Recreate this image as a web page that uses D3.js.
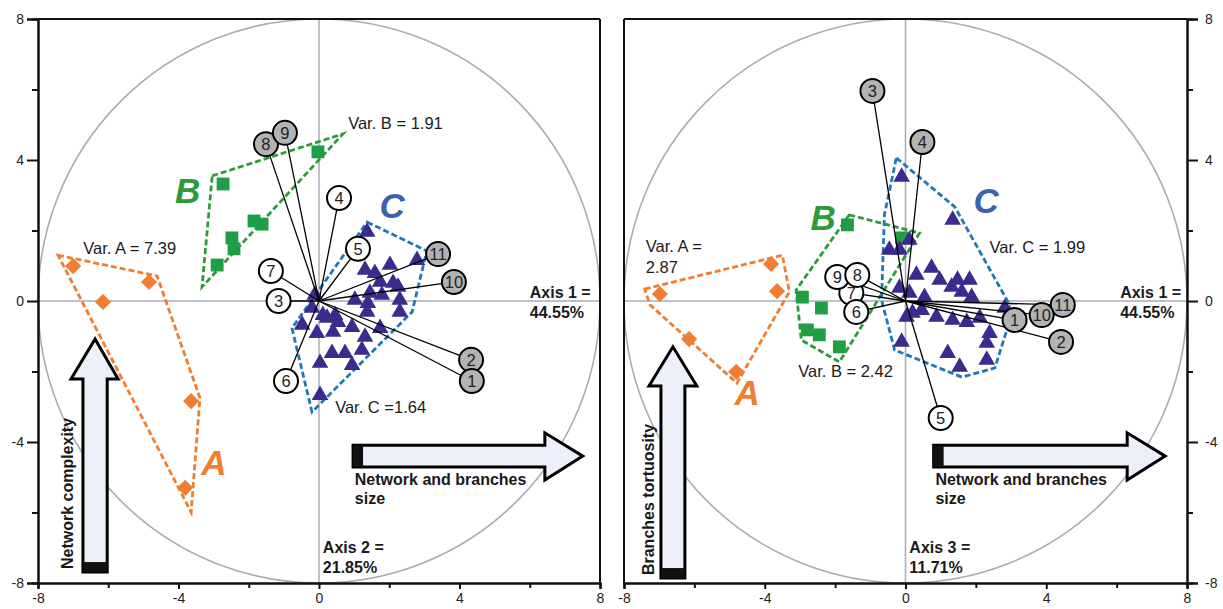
<!DOCTYPE html>
<html>
<head>
<meta charset="utf-8">
<script src="https://cdn.jsdelivr.net/npm/d3@7"></script>
<style>
  body { margin: 0; background: #fff; }
  svg { display: block; font-family: "Liberation Sans", Arial, sans-serif; }
</style>
</head>
<body>
<svg id="chart" width="1223" height="609"></svg>
<script>
// ---- shared labels ----
const varNames = ["1", "2", "3", "4", "5", "6", "7", "8", "9", "10", "11"];
const majorTicks = [-8, -4, 0, 4, 8];
const minorTicks = [-6, -2, 2, 6];

// ---- Axis 1 x Axis 2 (left plot) ----
const l_groupA_x = [-7.0, -6.15, -4.84, -3.64, -3.81];
const l_groupA_y = [0.99, -0.03, 0.54, -2.84, -5.3];
const l_groupB_x = [-2.73, -1.85, -1.62, -2.48, -2.42, -2.9, -0.03];
const l_groupB_y = [3.32, 2.27, 2.18, 1.79, 1.48, 1.02, 4.23];
const l_groupC_x = [1.37, 1.31, 1.59, 2.02, 2.79, 1.74, 2.11, 2.25, 1.45, 1.02, 1.39, 1.79, 2.30, 2.30, -0.12,
                    -0.2, 1.37, 0.46, 0.11, -0.48, 0.23, 0.54, 0.94, -0.06, 0.40, 1.31, 1.74, 1.22, 0.37, 0.74, 0.03, 0.94, 0.03];
const l_groupC_y = [1.96, 0.88, 0.79, 1.02, 1.16, 0.54, 0.51, 0.40, 0.23, 0.03, -0.06, 0.17, 0.03, -0.31, 0.17,
                    -0.2, -0.31, -0.40, -0.40, -0.68, -0.48, -0.60, -0.74, -0.91, -0.88, -1.02, -0.77, -1.39, -1.48, -1.48, -1.76, -1.82, -2.67];
const l_hullA = [[-7.43, 1.3], [-4.61, 0.71], [-3.39, -2.75], [-3.64, -5.99]];
const l_hullB = [[-3.04, 3.55], [0.68, 4.74], [-3.33, 0.4]];
const l_hullC = [[1.37, 2.24], [3.07, 1.42], [2.65, -0.31], [-0.2, -3.15], [-0.77, -0.77]];
const l_loadX = [4.35, 4.33, -1.15, 0.57, 1.11, -0.94, -1.37, -1.51, -0.97, 3.84, 3.39];
const l_loadY = [-2.27, -1.67, 0, 2.92, 1.48, -2.27, 0.85, 4.45, 4.77, 0.54, 1.33];
const l_loadGray = [true, true, false, false, false, false, false, true, true, true, true];

// ---- Axis 1 x Axis 3 (right plot) ----
const r_groupA_x = [-6.98, -6.15, -4.81, -3.82, -3.65];
const r_groupA_y = [0.2, -1.08, -2.01, 1.05, 0.28];
const r_groupB_x = [-1.65, -0.11, -2.93, -2.39, -2.79, -2.45, -1.88];
const r_groupB_y = [2.16, 1.79, 0.11, -0.2, -0.82, -0.96, -1.30];
const r_groupC_x = [-0.11, -0.46, -0.17, 0.11, 1.34, 0.74, 0.31, 0.97, 1.48, 1.82, 1.31, 0.54, 1.88, -0.17, 1.60,
                    0.11, 0.03, 0.46, 0.88, 1.34, 1.74, 2.11, 2.39, 2.31, -0.11, 1.20, 2.31, 1.54, 2.82, 0.2];
const r_groupC_y = [3.52, 1.45, 1.45, 1.73, 2.30, 0.94, 0.74, 0.60, 0.60, 0.60, 0.40, 0.11, 0.11, 0.37, 0.26,
                    0.23, -0.45, -0.26, -0.45, -0.54, -0.60, -0.48, -0.91, -1.19, -1.16, -1.48, -1.67, -1.87, -0.2, -0.34];
const r_hullA = [[-7.41, 0.34], [-3.5, 1.30], [-3.3, 0.26], [-4.79, -2.33], [-7.26, -0.11]];
const r_hullB = [[-1.6, 2.44], [0.4, 1.93], [-1.88, -1.73], [-2.96, -1.11], [-3.11, 0.31]];
const r_hullC = [[-0.26, 4.06], [1.40, 2.67], [2.96, -0.11], [2.88, -0.82], [2.54, -1.90], [1.60, -2.16],
                 [-0.31, -1.39], [-0.68, 0.03], [-0.6, 2.44]];
const r_loadX = [3.1, 4.42, -0.94, 0.48, 1.0, -1.40, -1.54, -1.37, -1.94, 3.87, 4.47];
const r_loadY = [-0.54, -1.16, 5.96, 4.51, -3.32, -0.31, 0.23, 0.74, 0.68, -0.40, -0.11];
const r_loadGray = [true, true, true, true, false, false, false, false, false, true, true];

const colA = "#ef7d32", colB = "#1f9e45", colBline = "#2d9b3c", colC = "#3b2b8d", colCline = "#1f77b6";
const colCtext = "#3b63ad", gridCol = "#a9acb6", arrowFill = "#eef0f9";

const svg = d3.select("#chart");
const toPts = (xs, ys) => xs.map((v, i) => [v, ys[i]]);

function drawPanel(p) {
    const x = d3.scaleLinear().domain([-8, 8]).range([p.left, p.right]);
    const y = d3.scaleLinear().domain([-8, 8]).range([583, 19]);
    const g = svg.append("g");

    // cross hair and the radius-8 circle
    g.append("line").attr("x1", x(0)).attr("x2", x(0)).attr("y1", y(8)).attr("y2", y(-8))
        .attr("stroke", gridCol).attr("stroke-width", 1.5);
    g.append("line").attr("x1", x(-8)).attr("x2", x(8)).attr("y1", y(0)).attr("y2", y(0))
        .attr("stroke", gridCol).attr("stroke-width", 1.5);
    g.append("ellipse").attr("cx", x(0)).attr("cy", y(0))
        .attr("rx", x(8) - x(0)).attr("ry", y(0) - y(8))
        .attr("fill", "none").attr("stroke", gridCol).attr("stroke-width", 1.6);

    // dashed group outlines
    const hull = d3.line().x(d => x(d[0])).y(d => y(d[1])).curve(d3.curveLinearClosed);
    [[p.hullA, colA], [p.hullB, colBline], [p.hullC, colCline]].forEach(([h, c]) => {
        g.append("path").attr("d", hull(h)).attr("fill", "none")
            .attr("stroke", c).attr("stroke-width", 2.8).attr("stroke-dasharray", "6 3");
    });

    // group markers
    g.selectAll(".ga").data(p.A).enter().append("path")
        .attr("d", d3.symbol().type(d3.symbolSquare).size(130)())
        .attr("transform", d => `translate(${x(d[0])},${y(d[1])}) rotate(45)`)
        .attr("fill", colA);
    g.selectAll(".gb").data(p.B).enter().append("path")
        .attr("d", d3.symbol().type(d3.symbolSquare).size(165)())
        .attr("transform", d => `translate(${x(d[0])},${y(d[1])})`)
        .attr("fill", colB);
    g.selectAll(".gc").data(p.C).enter().append("path")
        .attr("d", d3.symbol().type(d3.symbolTriangle).size(120)())
        .attr("transform", d => `translate(${x(d[0])},${y(d[1])})`)
        .attr("fill", colC);

    // loading vectors
    const loads = varNames.map((n, i) => ({ name: n, x: p.loadX[i], y: p.loadY[i], gray: p.loadGray[i] }));
    g.selectAll(".vec").data(loads).enter().append("line")
        .attr("x1", x(0)).attr("y1", y(0))
        .attr("x2", d => x(d.x)).attr("y2", d => y(d.y))
        .attr("stroke", "#000").attr("stroke-width", 1.3);
    const ordered = p.order.map(n => loads[varNames.indexOf(n)]);
    const node = g.selectAll(".node").data(ordered).enter().append("g")
        .attr("transform", d => `translate(${x(d.x)},${y(d.y)})`);
    node.append("circle").attr("r", 12)
        .attr("fill", d => d.gray ? "#b3b3b3" : "#fff")
        .attr("stroke", "#000").attr("stroke-width", 2);
    node.append("text").text(d => d.name)
        .attr("text-anchor", "middle").attr("dy", "0.36em")
        .attr("font-size", 16.5).attr("fill", "#222");

    // big group letters and variance notes
    p.texts.forEach(t => {
        const tx = g.append("text").attr("x", x(t.x)).attr("y", y(t.y))
            .attr("font-size", 16.5).attr("fill", t.color || "#1a1a1a");
        if (t.big) tx.attr("font-weight", "bold").attr("font-style", "italic").attr("font-size", 35);
        if (t.bold) tx.attr("font-weight", "bold").attr("font-size", 16);
        tx.text(t.text);
    });

    // vertical arrow
    const va = p.vArrow;
    const vpts = [[va.sl, va.bottom], [va.sl, va.base], [va.hl, va.base], [(va.sl + va.sr) / 2, va.tip],
                  [va.hr, va.base], [va.sr, va.base], [va.sr, va.bottom]];
    g.append("polygon").attr("points", vpts.map(d => [x(d[0]), y(d[1])].join(",")).join(" "))
        .attr("fill", arrowFill).attr("stroke", "#000").attr("stroke-width", 3);
    g.append("rect").attr("x", x(va.sl)).attr("y", y(va.bottom) - 10)
        .attr("width", x(va.sr) - x(va.sl)).attr("height", 10).attr("fill", "#111");
    g.append("text").attr("transform", `translate(${x(va.textX)},${y(va.bottom) - 3}) rotate(-90)`)
        .attr("font-weight", "bold").attr("font-size", 16).attr("fill", "#1a1a1a").text(va.label);

    // horizontal arrow
    const ha = p.hArrow;
    const hpts = [[ha.start, ha.top], [ha.base, ha.top], [ha.base, ha.htop], [ha.tip, (ha.top + ha.bot) / 2],
                  [ha.base, ha.hbot], [ha.base, ha.bot], [ha.start, ha.bot]];
    g.append("polygon").attr("points", hpts.map(d => [x(d[0]), y(d[1])].join(",")).join(" "))
        .attr("fill", arrowFill).attr("stroke", "#000").attr("stroke-width", 3);
    g.append("rect").attr("x", x(ha.start)).attr("y", y(ha.top))
        .attr("width", 10).attr("height", y(ha.bot) - y(ha.top)).attr("fill", "#111");

    // frame
    g.append("line").attr("x1", x(-8)).attr("x2", x(8)).attr("y1", y(8)).attr("y2", y(8))
        .attr("stroke", "#111").attr("stroke-width", 2);
    const sideX = p.axisSide === "left" ? x(8) : x(-8);
    g.append("line").attr("x1", sideX).attr("x2", sideX).attr("y1", y(8)).attr("y2", y(-8))
        .attr("stroke", "#111").attr("stroke-width", 2);

    // axes (plain hyphen minus like the original)
    const fmt = d => String(d);
    const styleAxis = sel => {
        sel.selectAll("path,line").attr("stroke", "#111").attr("stroke-width", 2);
        sel.selectAll("text").attr("font-size", 14).attr("fill", "#222")
            .attr("font-family", "'Liberation Sans', Arial, sans-serif");
    };
    const yMaj = p.axisSide === "left" ? d3.axisLeft(y) : d3.axisRight(y);
    const yMin = p.axisSide === "left" ? d3.axisLeft(y) : d3.axisRight(y);
    const yX = p.axisSide === "left" ? x(-8) : x(8);
    g.append("g").attr("transform", `translate(${yX},0)`)
        .call(yMaj.tickValues(majorTicks).tickFormat(fmt).tickSize(11).tickPadding(p.axisSide === "left" ? 3 : 7))
        .call(styleAxis);
    g.append("g").attr("transform", `translate(${yX},0)`)
        .call(yMin.tickValues(minorTicks).tickFormat("").tickSize(6)).call(styleAxis);
    g.append("g").attr("transform", `translate(0,${y(-8)})`)
        .call(d3.axisBottom(x).tickValues(majorTicks).tickFormat(fmt).tickSize(6).tickPadding(4))
        .call(styleAxis);
    g.append("g").attr("transform", `translate(0,${y(-8)})`)
        .call(d3.axisBottom(x).tickValues(minorTicks).tickFormat("").tickSize(5)).call(styleAxis);
}

drawPanel({
    left: 38, right: 600, axisSide: "left",
    A: toPts(l_groupA_x, l_groupA_y), B: toPts(l_groupB_x, l_groupB_y), C: toPts(l_groupC_x, l_groupC_y),
    hullA: l_hullA, hullB: l_hullB, hullC: l_hullC,
    loadX: l_loadX, loadY: l_loadY, loadGray: l_loadGray,
    order: ["2", "1", "3", "4", "5", "6", "7", "8", "9", "11", "10"],
    texts: [
        { text: "Var. A = 7.39", x: -6.71, y: 1.33 },
        { text: "Var. B = 1.91", x: 0.83, y: 4.88 },
        { text: "Var. C =1.64", x: 0.46, y: -3.18 },
        { text: "A", x: -3.35, y: -4.94, big: true, color: colA },
        { text: "B", x: -4.1, y: 2.78, big: true, color: colBline },
        { text: "C", x: 1.72, y: 2.35, big: true, color: colCtext },
        { text: "Network and branches", x: 1.02, y: -5.22, bold: true },
        { text: "size", x: 1.02, y: -5.76, bold: true },
        { text: "Axis 1 =", x: 6.0, y: 0.08, bold: true },
        { text: "44.55%", x: 6.0, y: -0.48, bold: true },
        { text: "Axis 2 =", x: 0.11, y: -7.15, bold: true },
        { text: "21.85%", x: 0.11, y: -7.72, bold: true }
    ],
    vArrow: { sl: -6.72, sr: -6.03, hl: -7.06, hr: -5.72, tip: -1.08, base: -2.21, bottom: -7.69,
              textX: -7.0, label: "Network complexity" },
    hArrow: { start: 0.97, base: 6.43, tip: 7.51, top: -4.09, bot: -4.71, htop: -3.74, hbot: -5.08 }
});

drawPanel({
    left: 624, right: 1187, axisSide: "right",
    A: toPts(r_groupA_x, r_groupA_y), B: toPts(r_groupB_x, r_groupB_y), C: toPts(r_groupC_x, r_groupC_y),
    hullA: r_hullA, hullB: r_hullB, hullC: r_hullC,
    loadX: r_loadX, loadY: r_loadY, loadGray: r_loadGray,
    order: ["11", "10", "1", "2", "3", "4", "5", "7", "9", "8", "6"],
    texts: [
        { text: "Var. A =", x: -7.38, y: 1.39 },
        { text: "2.87", x: -7.38, y: 0.79 },
        { text: "Var. B = 2.42", x: -3.05, y: -2.16 },
        { text: "Var. C = 1.99", x: 2.39, y: 1.36 },
        { text: "A", x: -4.86, y: -2.95, big: true, color: colA },
        { text: "B", x: -2.7, y: 2.01, big: true, color: colBline },
        { text: "C", x: 1.93, y: 2.5, big: true, color: colCtext },
        { text: "Network and branches", x: 0.85, y: -5.22, bold: true },
        { text: "size", x: 0.85, y: -5.76, bold: true },
        { text: "Axis 1 =", x: 6.1, y: 0.08, bold: true },
        { text: "44.55%", x: 6.1, y: -0.48, bold: true },
        { text: "Axis 3 =", x: 0.11, y: -7.15, bold: true },
        { text: "11.71%", x: 0.11, y: -7.72, bold: true }
    ],
    vArrow: { sl: -6.95, sr: -6.27, hl: -7.29, hr: -5.93, tip: -1.30, base: -2.41, bottom: -7.86,
              textX: -7.15, label: "Branches tortuosity" },
    hArrow: { start: 0.80, base: 6.30, tip: 7.38, top: -4.09, bot: -4.71, htop: -3.74, hbot: -5.08 }
});
</script>
</body>
</html>
